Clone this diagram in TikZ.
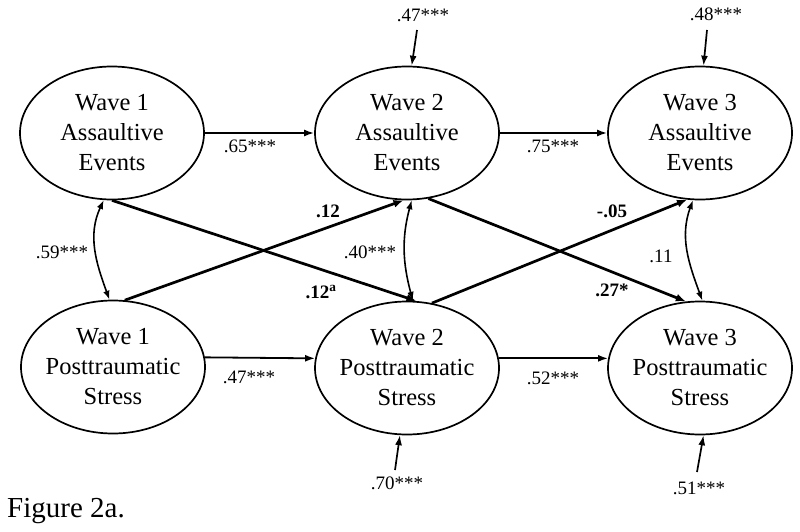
\documentclass[tikz,border=0pt]{standalone}
\usepackage{fontspec}
\setmainfont{Liberation Serif}
\usetikzlibrary{arrows.meta,shapes.geometric}
\begin{document}
\begin{tikzpicture}[x=1pt,y=-1pt,
  latent/.style={ellipse,draw,line width=1.7pt,minimum width=184pt,minimum height=133pt,inner sep=0pt},
  inner/.style={align=center,font=\fontsize{24.5}{30}\selectfont},
  coef/.style={font=\fontsize{19}{21}\selectfont,inner sep=0pt},
  arr/.style={line width=1.8pt,-{Latex[length=10pt,width=7pt]}},
  cross/.style={line width=2.7pt,-{Latex[length=10pt,width=8pt]}},
  corr/.style={line width=1.6pt,{Latex[length=9pt,width=6.5pt]}-{Latex[length=9pt,width=6.5pt]}},
  err/.style={line width=1.7pt,-{Latex[length=10pt,width=7pt]}}]
\useasboundingbox (0,0) rectangle (800,532);
% latent variables
\node[latent,label={[inner]center:{Wave 1\\Assaultive\\Events}}] (w1a) at (112,133) {};
\node[latent,label={[inner]center:{Wave 2\\Assaultive\\Events}}] (w2a) at (407,133) {};
\node[latent,label={[inner]center:{Wave 3\\Assaultive\\Events}}] (w3a) at (700,133) {};
\node[latent,label={[inner]center:{Wave 1\\Posttraumatic\\Stress}}] (w1p) at (113,367) {};
\node[latent,label={[inner]center:{Wave 2\\Posttraumatic\\Stress}}] (w2p) at (407,368) {};
\node[latent,label={[inner]center:{Wave 3\\Posttraumatic\\Stress}}] (w3p) at (700,368) {};
% autoregressive paths
\draw[arr] (w1a.east) -- (w2a.west);
\draw[arr] (w2a.east) -- (w3a.west);
\draw[arr] (w1p.6) -- (w2p.174);
\draw[arr] (w2p.6) -- (w3p.174);
\node[coef] (l65) at (250,146) {.65***};
\node[coef] (l75) at (553,146) {.75***};
\node[coef] (l47) at (249,377) {.47***};
\node[coef] (l52) at (553,378) {.52***};
% cross-lagged paths
\draw[cross] (w1a.south) -- (w2p.82);
\draw[cross] (w1p.80) -- (w2a.-93);
\draw[cross] (w2a.-72) -- (w3p.102);
\draw[cross] (w2p.69) -- (w3a.-101);
\node[coef] (c1) at (328,211) {\textbf{.12}};
\node[coef] (c2) at (321,292) {\textbf{.12\textsuperscript{a}}};
\node[coef] (c3) at (612,211) {\textbf{-.05}};
\node[coef] (c4) at (612,290) {\textbf{.27*}};
% correlations
\draw[corr] (w1a.-97) to[out=-115,in=110] (w1p.93);
\draw[corr] (w2a.-86) to[out=-105,in=105] (w2p.85);
\draw[corr] (w3a.-96) to[out=-110,in=110] (w3p.88);
\node[coef] (r1) at (62,252) {.59***};
\node[coef] (r2) at (370,252) {.40***};
\node[coef] (r3) at (661,256) {.11};
% residuals
\coordinate (e2a) at (417,30);
\coordinate (e3a) at (707,30);
\coordinate (e2p) at (395,470);
\coordinate (e3p) at (697,472);
\draw[err] (e2a) -- (w2a.86);
\draw[err] (e3a) -- (w3a.87);
\draw[err] (e2p) -- (w2p.-96);
\draw[err] (e3p) -- (w3p.-87);
\node[coef] (v2a) at (423,15) {.47***};
\node[coef] (v3a) at (716,14) {.48***};
\node[coef] (v2p) at (397,483) {.70***};
\node[coef] (v3p) at (699,488) {.51***};
% caption
\node[anchor=base west,inner sep=0pt,font=\fontsize{29}{32}\selectfont] (cap) at (7,517) {Figure 2a.};
\end{tikzpicture}
\end{document}
